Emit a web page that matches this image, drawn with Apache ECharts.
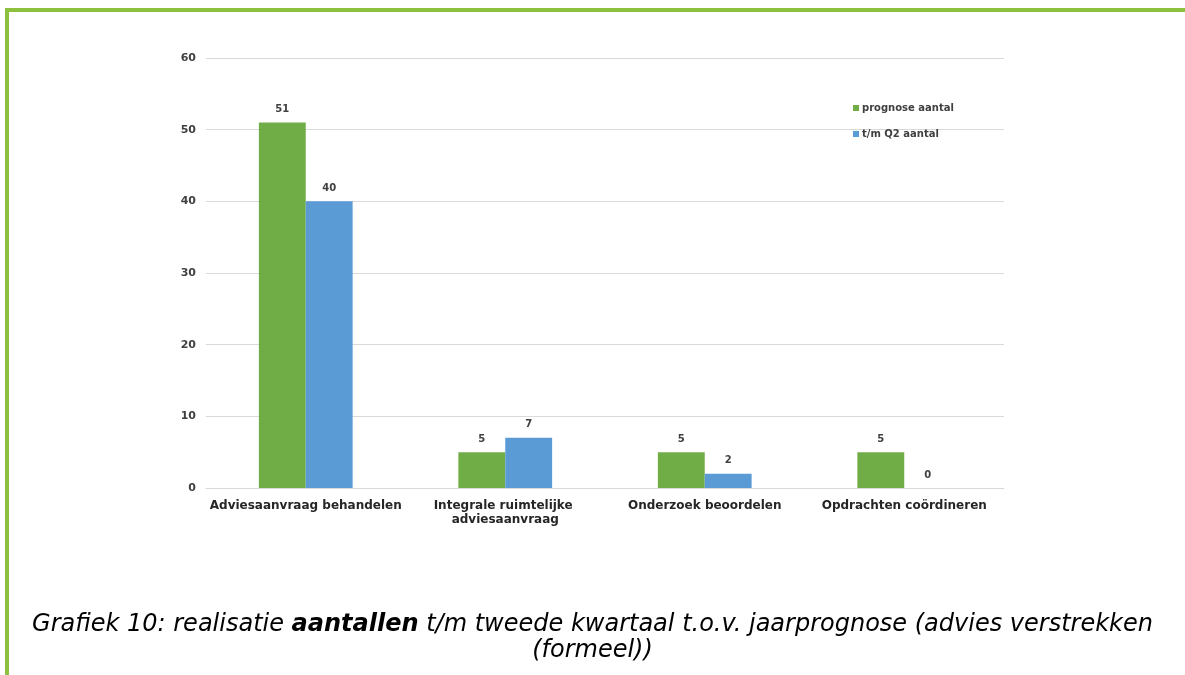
<!DOCTYPE html>
<html>
<head>
<meta charset="utf-8">
<script src="https://cdn.jsdelivr.net/npm/echarts@6/dist/echarts.min.js"></script>
<style>
html,body{margin:0;padding:0;background:#fff;}
#frame{position:absolute;left:5px;top:8px;width:1180px;height:667px;border-top:4px solid #8cc03e;border-left:4px solid #8cc03e;box-sizing:border-box;}
#chart{position:absolute;left:0;top:0;width:1185px;height:675px;}
</style>
</head>
<body>
<div id="frame"></div>
<div id="chart"></div>
<script>
const categories = ['Adviesaanvraag behandelen', 'Integrale ruimtelijke adviesaanvraag', 'Onderzoek beoordelen', 'Opdrachten coördineren'];
const seriesNames = ['prognose aantal', 't/m Q2 aantal'];
const prognose = [51, 5, 5, 5];
const realisatie = [40, 7, 2, 0];
const yTicks = { min: 0, max: 60, interval: 10 };

const chart = echarts.init(document.getElementById('chart'), null, { renderer: 'canvas' });
const labelStyle = { show: true, position: 'top', distance: 8, fontFamily: 'DejaVu Sans', fontWeight: 'bold', fontSize: 10, color: '#404040' };
const capFont = { fontFamily: 'DejaVu Sans', fontStyle: 'italic', fontWeight: 'normal', fontSize: 24, color: '#000' };
chart.setOption({
  animation: false,
  backgroundColor: 'transparent',
  title: [
    {
      left: 'center', top: 608,
      text: '{i|Grafiek 10: realisatie }{b|aantallen}{i| t/m tweede kwartaal t.o.v. jaarprognose (advies verstrekken}',
      textStyle: { fontWeight: 'normal', rich: {
        i: capFont,
        b: Object.assign({}, capFont, { fontWeight: 'bold' })
      } }
    },
    {
      left: 'center', top: 634,
      text: '(formeel))',
      textStyle: capFont
    }
  ],
  legend: {
    orient: 'vertical', left: 848, top: 98,
    itemWidth: 6, itemHeight: 6, itemGap: 16,
    icon: 'rect',
    data: seriesNames,
    textStyle: { fontFamily: 'DejaVu Sans', fontWeight: 'bold', fontSize: 10, color: '#404040', padding: [0, 0, 0, -2] }
  },
  grid: { left: 206, right: 181, top: 58, bottom: 187, containLabel: false },
  xAxis: {
    type: 'category',
    data: categories,
    axisLine: { show: true, lineStyle: { color: '#d9d9d9', width: 1 } },
    axisTick: { show: false },
    axisLabel: {
      interval: 0, margin: 11, width: 199, overflow: 'break', lineHeight: 14,
      fontFamily: 'DejaVu Sans', fontWeight: 'bold', fontSize: 12, color: '#262626'
    }
  },
  yAxis: {
    type: 'value',
    min: yTicks.min, max: yTicks.max, interval: yTicks.interval,
    axisLine: { show: false },
    axisTick: { show: false },
    splitLine: { lineStyle: { color: '#d9d9d9', width: 1 } },
    axisLabel: { margin: 10, fontFamily: 'DejaVu Sans', fontWeight: 'bold', fontSize: 11, color: '#404040' }
  },
  series: [
    { name: seriesNames[0], type: 'bar', data: prognose, itemStyle: { color: '#70ad47' }, barGap: '0%', barCategoryGap: '53%', label: labelStyle },
    { name: seriesNames[1], type: 'bar', data: realisatie, itemStyle: { color: '#5b9bd5' }, label: labelStyle }
  ]
});
</script>
</body>
</html>
